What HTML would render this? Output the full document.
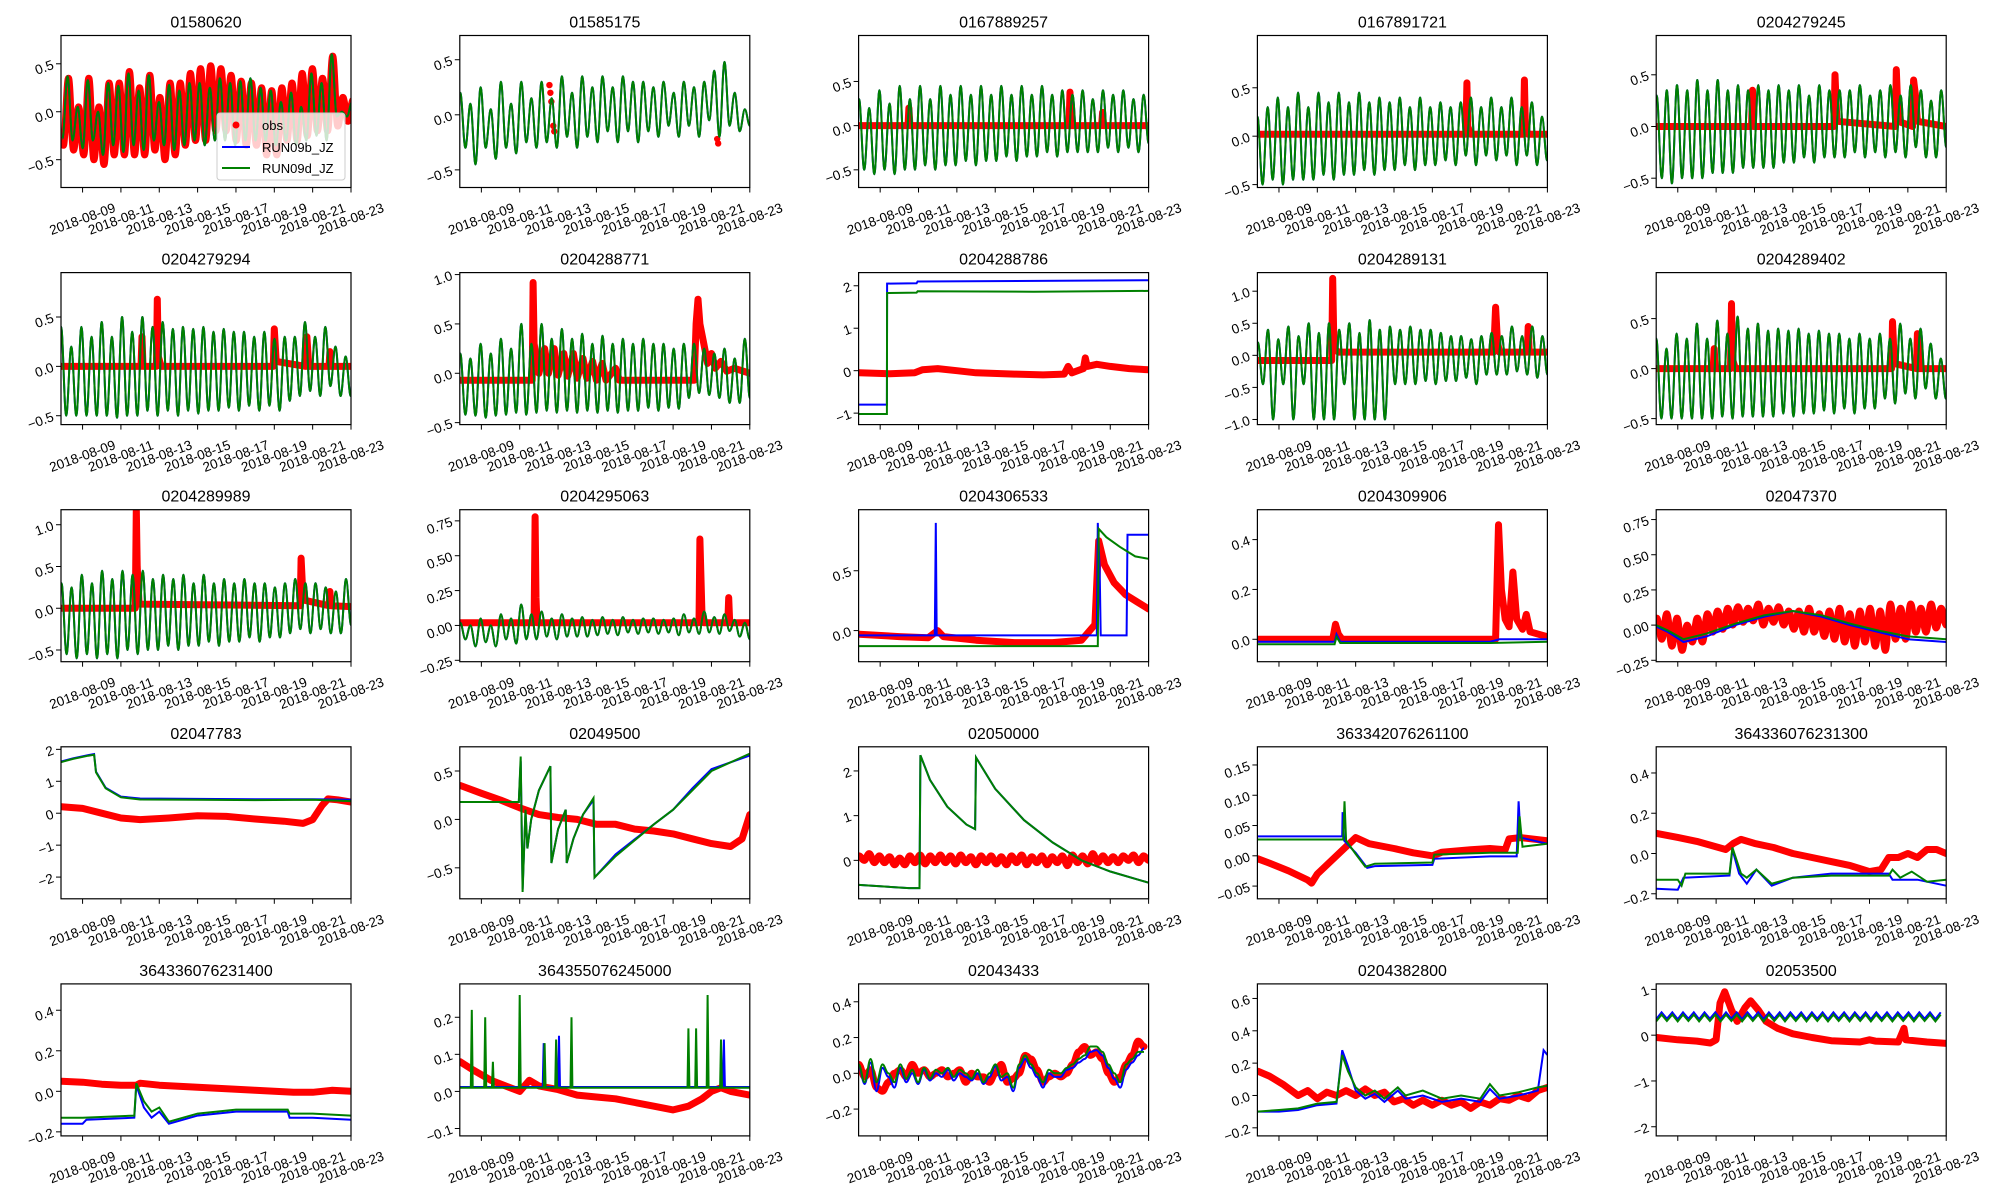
<!DOCTYPE html>
<html><head><meta charset="utf-8"><style>
html,body{margin:0;padding:0;background:#fff;}
svg{display:block;font-family:"Liberation Sans","DejaVu Sans",sans-serif;}
</style></head><body>
<svg id="fig" width="2000" height="1200" viewBox="0 0 2000 1200">
<defs id="defs"></defs>
</svg>
<script>
// ---------- data (day of August 2018) ----------
const xTicks = [9,11,13,15,17,19,21,23];
const xTickLabels = ["2018-08-09","2018-08-11","2018-08-13","2018-08-15","2018-08-17","2018-08-19","2018-08-21","2018-08-23"];
const titles = ["01580620","01585175","0167889257","0167891721","0204279245","0204279294","0204288771","0204288786","0204289131","0204289402","0204289989","0204295063","0204306533","0204309906","02047370","02047783","02049500","02050000","363342076261100","364336076231300","364336076231400","364355076245000","02043433","0204382800","02053500"];
const yMins = [-0.79,-0.66,-0.70,-0.53,-0.59,-0.59,-0.52,-1.27,-1.08,-0.56,-0.64,-0.26,-0.26,-0.09,-0.26,-2.68,-0.82,-0.86,-0.071,-0.225,-0.22,-0.12,-0.35,-0.25,-2.2];
const yMaxs = [0.795,0.72,1.02,1.04,0.88,0.95,1.02,2.31,1.29,0.96,1.18,0.83,1.01,0.52,0.82,2.08,0.75,2.54,0.18,0.53,0.53,0.29,0.5,0.69,1.12];
const yTickVals = [[-0.5,0,0.5],[-0.5,0,0.5],[-0.5,0,0.5],[-0.5,0,0.5],[-0.5,0,0.5],[-0.5,0,0.5],[-0.5,0,0.5,1.0],[-1,0,1,2],[-1.0,-0.5,0,0.5,1.0],[-0.5,0,0.5],[-0.5,0,0.5,1.0],[-0.25,0,0.25,0.5,0.75],[0,0.5],[0,0.2,0.4],[-0.25,0,0.25,0.5,0.75],[-2,-1,0,1,2],[-0.5,0,0.5],[0,1,2],[-0.05,0,0.05,0.1,0.15],[-0.2,0,0.2,0.4],[-0.2,0,0.2,0.4],[-0.1,0,0.1,0.2],[-0.2,0,0.2,0.4],[-0.2,0,0.2,0.4,0.6],[-2,-1,0,1]];
const yTickDecimals = [1,1,1,1,1,1,1,0,1,1,1,2,1,1,2,0,1,0,2,1,1,1,1,1,0];

// tidal extrema series: start day and spacing (half tidal cycle)
const tideStep = 0.265;
const p1_d = [-0.28,0.37,-0.3,0.05,-0.38,0.33,-0.3,0.0,-0.45,0.3,-0.35,0.27,-0.42,0.4,-0.35,0.22,-0.4,0.38,-0.3,0.1,-0.35,0.28,-0.4,0.22,-0.35,0.3,-0.3,0.3,-0.35,0.25,-0.3,0.35,-0.3,0.3,-0.35,0.32,-0.3,0.35,-0.3,0.25,-0.3,0.22,-0.35,0.1,-0.3,0.2,-0.35,0.05,-0.3,0.4,-0.25,0.3,-0.3,0.6,-0.05,0.0,-0.05,0.1];
const p1_obs = [-0.35,0.35,-0.4,0.05,-0.45,0.35,-0.5,0.05,-0.55,0.3,-0.45,0.3,-0.45,0.42,-0.45,0.25,-0.45,0.38,-0.4,0.15,-0.5,0.3,-0.45,0.3,-0.35,0.4,-0.3,0.45,-0.3,0.48,-0.2,0.45,-0.2,0.38,-0.3,0.32,-0.35,0.3,-0.35,0.25,-0.45,0.22,-0.45,0.25,-0.3,0.3,-0.3,0.4,-0.25,0.45,-0.2,0.35,-0.2,0.58,-0.15,0.15,-0.1,0.12];
const p2_d = [0.2,-0.3,0.1,-0.45,0.25,-0.3,0.05,-0.4,0.3,-0.3,0.1,-0.35,0.3,-0.25,0.15,-0.3,0.3,-0.25,0.15,-0.3,0.35,-0.2,0.2,-0.3,0.35,-0.2,0.25,-0.25,0.35,-0.15,0.25,-0.25,0.35,-0.15,0.3,-0.25,0.3,-0.15,0.25,-0.2,0.3,-0.1,0.2,-0.2,0.3,-0.1,0.25,-0.2,0.3,-0.05,0.4,-0.2,0.48,-0.1,0.2,-0.15,0.05,-0.1];
const p2_obs = [[12.55,0.27],[12.6,0.2],[12.65,0.12],[12.75,-0.1],[12.8,-0.15],[21.3,-0.22],[21.35,-0.26]];
const p3_d = [0.3,-0.5,0.2,-0.55,0.4,-0.5,0.25,-0.55,0.45,-0.5,0.3,-0.5,0.45,-0.45,0.3,-0.5,0.45,-0.45,0.35,-0.45,0.45,-0.4,0.35,-0.45,0.45,-0.4,0.35,-0.4,0.45,-0.35,0.35,-0.4,0.45,-0.35,0.35,-0.35,0.45,-0.3,0.35,-0.35,0.4,-0.3,0.35,-0.3,0.4,-0.3,0.3,-0.3,0.4,-0.25,0.35,-0.3,0.4,-0.25,0.3,-0.3,0.35,-0.2];
const p3_obs = [[7.9,0],[10.45,0],[10.5,0.2],[10.55,0],[18.85,0],[18.9,0.38],[18.95,0],[20.55,0],[20.6,0.15],[20.65,0],[23,0]];
const p4_d = [0.2,-0.5,0.3,-0.45,0.4,-0.5,0.3,-0.45,0.45,-0.45,0.3,-0.45,0.45,-0.4,0.35,-0.45,0.45,-0.4,0.35,-0.4,0.45,-0.35,0.35,-0.4,0.4,-0.35,0.35,-0.35,0.4,-0.3,0.3,-0.35,0.4,-0.3,0.3,-0.3,0.35,-0.25,0.3,-0.3,0.35,-0.2,0.4,-0.3,0.3,-0.2,0.4,-0.25,0.3,-0.2,0.4,-0.3,0.3,-0.2,0.35,-0.3,0.2,-0.25];
const p4_obs = [[7.9,0.02],[18.75,0.02],[18.8,0.55],[18.85,0.1],[19.0,0.02],[21.75,0.02],[21.8,0.58],[21.85,0.1],[22.0,0.02],[23,0.02]];
const p5_d = [0.3,-0.5,0.35,-0.55,0.4,-0.5,0.35,-0.5,0.45,-0.5,0.35,-0.45,0.45,-0.45,0.35,-0.45,0.4,-0.4,0.35,-0.4,0.4,-0.4,0.35,-0.4,0.4,-0.35,0.35,-0.35,0.4,-0.3,0.3,-0.35,0.4,-0.3,0.35,-0.3,0.35,-0.3,0.35,-0.25,0.4,-0.3,0.3,-0.25,0.35,-0.3,0.4,-0.25,0.3,-0.3,0.4,-0.2,0.35,-0.3,0.25,-0.3,0.35,-0.2];
const p5_obs = [[7.9,0],[12.85,0],[12.9,0.35],[12.95,0],[17.15,0],[17.2,0.5],[17.3,0.05],[20.35,0],[20.4,0.55],[20.5,0.05],[21.25,0],[21.3,0.45],[21.4,0.3],[21.5,0.05],[23,0]];
const p6_d = [0.4,-0.5,0.2,-0.5,0.4,-0.5,0.3,-0.5,0.45,-0.5,0.3,-0.52,0.5,-0.5,0.35,-0.5,0.5,-0.45,0.4,-0.5,0.45,-0.45,0.38,-0.5,0.4,-0.45,0.38,-0.48,0.4,-0.45,0.35,-0.45,0.38,-0.42,0.35,-0.45,0.35,-0.4,0.3,-0.45,0.35,-0.4,0.28,-0.45,0.3,-0.35,0.3,-0.3,0.45,-0.25,0.3,-0.3,0.4,-0.2,0.2,-0.3,0.1,-0.3,0.35];
const p6_obs = [[7.9,0],[12.05,0],[12.1,0.3],[12.15,0],[12.85,0],[12.9,0.68],[12.95,0.1],[13.1,0],[18.95,0],[19.0,0.38],[19.1,0.05],[20.65,0],[20.7,0.3],[20.8,0],[21.85,0],[21.9,0.15],[21.95,0],[23,0]];
const p7_d = [0.2,-0.42,0.15,-0.43,0.3,-0.45,0.2,-0.43,0.35,-0.42,0.25,-0.4,0.5,-0.42,0.3,-0.4,0.5,-0.38,0.35,-0.4,0.45,-0.38,0.35,-0.4,0.4,-0.38,0.3,-0.4,0.38,-0.38,0.3,-0.4,0.35,-0.38,0.3,-0.38,0.35,-0.35,0.3,-0.38,0.3,-0.35,0.25,-0.36,0.3,-0.25,0.3,-0.2,0.25,-0.22,0.2,-0.25,0.25,-0.3,0.15,-0.3,0.35,-0.25];
const p7_obs = [[7.9,-0.07],[11.65,-0.07],[11.7,0.92],[11.75,0.3],[12.0,0.0],[12.3,0.25],[12.5,0.0],[12.8,0.25],[13.0,-0.02],[13.3,0.2],[13.5,-0.03],[13.8,0.2],[14.0,-0.05],[14.3,0.15],[14.5,-0.05],[14.8,0.12],[15,-0.07],[15.3,0.1],[15.5,-0.07],[16,0.05],[16.2,-0.07],[20.1,-0.07],[20.2,0.5],[20.3,0.75],[20.4,0.5],[20.6,0.3],[20.8,0.1],[21,0.2],[21.2,0.05],[21.5,0.12],[21.8,0.02],[22.2,0.05],[23,0.0]];
const p8_b = [[7.875,-0.8],[9.35,-0.8],[9.36,2.05],[10.9,2.06],[10.95,2.1],[23,2.13]];
const p8_d = [[7.875,-1.02],[9.35,-1.02],[9.36,1.83],[10.9,1.84],[10.95,1.87],[17,1.86],[23,1.88]];
const p8_obs = [[7.9,-0.05],[9.5,-0.07],[10.8,-0.05],[11.2,0.02],[12,0.05],[13,0.0],[14,-0.05],[16,-0.08],[17.5,-0.1],[18.6,-0.08],[18.8,0.1],[19.0,-0.05],[19.6,0.05],[19.7,0.3],[19.8,0.1],[20.3,0.15],[21,0.1],[22,0.05],[23,0.02]];
const p9_d = [0.2,-0.45,0.4,-1.0,0.25,-0.45,0.45,-1.0,0.3,-0.45,0.5,-1.0,0.35,-1.0,0.5,-1.0,0.4,-0.45,0.5,-1.0,0.35,-1.0,0.55,-1.0,0.4,-1.0,0.45,-0.45,0.4,-0.45,0.45,-0.45,0.4,-0.4,0.4,-0.45,0.35,-0.4,0.3,-0.4,0.3,-0.35,0.25,-0.45,0.3,-0.3,0.35,-0.3,0.3,-0.3,0.45,-0.25,0.3,-0.3,0.45,-0.35,0.3,-0.3];
const p9_obs = [[7.9,-0.08],[11.75,-0.08],[11.8,1.2],[11.85,0.4],[11.9,0.1],[12.1,0.05],[20.2,0.05],[20.3,0.75],[20.4,0.2],[20.5,0.05],[21.95,0.05],[22.0,0.45],[22.05,0.05],[23,0.05]];
const p10_d = [0.3,-0.5,0.2,-0.5,0.35,-0.5,0.3,-0.5,0.45,-0.5,0.3,-0.5,0.48,-0.48,0.35,-0.5,0.52,-0.48,0.4,-0.48,0.45,-0.48,0.38,-0.48,0.4,-0.45,0.38,-0.48,0.4,-0.45,0.35,-0.45,0.38,-0.42,0.35,-0.45,0.35,-0.4,0.3,-0.45,0.35,-0.4,0.3,-0.4,0.35,-0.3,0.3,-0.35,0.45,-0.25,0.3,-0.3,0.4,-0.2,0.25,-0.3,0.1,-0.3,0.35];
const p10_obs = [[7.9,0],[10.85,0],[10.9,0.2],[10.95,0],[11.75,0],[11.8,0.65],[11.85,0.1],[12.0,0],[20.15,0],[20.2,0.47],[20.3,0.05],[21.45,0],[21.5,0.35],[21.6,0],[23,0]];
const p11_d = [0.3,-0.55,0.25,-0.6,0.4,-0.55,0.3,-0.6,0.45,-0.55,0.35,-0.6,0.45,-0.5,0.4,-0.55,0.45,-0.5,0.35,-0.5,0.4,-0.45,0.35,-0.5,0.4,-0.45,0.3,-0.45,0.4,-0.4,0.3,-0.45,0.35,-0.4,0.3,-0.4,0.35,-0.35,0.3,-0.4,0.3,-0.35,0.25,-0.35,0.3,-0.3,0.35,-0.25,0.3,-0.3,0.3,-0.25,0.25,-0.3,0.2,-0.3,0.35,-0.2];
const p11_obs = [[7.9,0],[11.75,0],[11.8,1.2],[11.85,0.5],[11.95,0.05],[20.35,0.03],[20.4,0.6],[20.5,0.1],[21.85,0.03],[21.9,0.2],[21.95,0.03],[23,0.02]];
const p12_d = [0.02,-0.1,0.0,-0.15,0.05,-0.12,0.0,-0.15,0.08,-0.1,0.05,-0.13,0.15,-0.1,0.08,-0.1,0.1,-0.08,0.05,-0.1,0.08,-0.08,0.05,-0.08,0.06,-0.08,0.04,-0.07,0.06,-0.06,0.04,-0.07,0.06,-0.05,0.04,-0.06,0.05,-0.05,0.05,-0.06,0.04,-0.05,0.05,-0.07,0.08,-0.05,0.05,-0.06,0.1,-0.05,0.06,-0.06,0.08,-0.04,0.04,-0.08,0.02,-0.1];
const p12_obs = [[7.9,0.02],[11.75,0.02],[11.8,0.78],[11.85,0.2],[11.9,0.02],[20.35,0.02],[20.4,0.62],[20.5,0.1],[20.6,0.02],[21.85,0.02],[21.9,0.2],[21.95,0.02],[23,0.02]];
const p13_b = [[7.875,-0.04],[11.85,-0.04],[11.9,0.9],[11.95,-0.04],[20.3,-0.04],[20.35,0.9],[20.45,0.5],[20.5,-0.04],[21.85,-0.04],[21.9,0.8],[23,0.8]];
const p13_d = [[7.875,-0.13],[20.35,-0.13],[20.4,0.85],[20.8,0.78],[21.5,0.7],[22.3,0.62],[23,0.6]];
const p13_obs = [[7.9,-0.03],[10,-0.05],[11.5,-0.06],[12,0.0],[12.3,-0.05],[14,-0.08],[16,-0.1],[18,-0.1],[19.5,-0.08],[20.2,0.05],[20.4,0.75],[20.7,0.55],[21.2,0.4],[21.8,0.3],[22.4,0.24],[23,0.18]];
const p14_b = [[7.875,-0.01],[11.9,-0.01],[12.0,0.02],[12.2,-0.01],[20,-0.01],[20.5,0.0],[23,0.0]];
const p14_d = [[7.875,-0.02],[11.9,-0.02],[12.0,0.01],[12.2,-0.015],[20,-0.015],[23,-0.01]];
const p14_obs = [[7.9,0.0],[11.8,0.0],[11.95,0.06],[12.1,0.02],[12.3,0.0],[20.3,0.0],[20.45,0.46],[20.6,0.2],[20.8,0.08],[21.0,0.05],[21.2,0.27],[21.4,0.08],[21.7,0.04],[21.9,0.1],[22.1,0.03],[23,0.01]];
const p15_b = [[7.875,-0.01],[8.5,-0.05],[9.3,-0.12],[10.5,-0.08],[12,0.0],[13.5,0.06],[15,0.1],[16.5,0.06],[18,0.0],[19.5,-0.05],[21,-0.1],[23,-0.12]];
const p15_d = [[7.875,0.0],[8.5,-0.04],[9.3,-0.1],[10.5,-0.06],[12,0.01],[13.5,0.07],[15,0.1],[16.5,0.07],[18,0.01],[19.5,-0.04],[21,-0.08],[23,-0.1]];
const p15_obs = [0.05,-0.1,0.08,-0.15,0.05,-0.18,0.0,-0.12,0.05,-0.12,0.08,-0.05,0.1,-0.03,0.12,0.0,0.13,0.02,0.12,0.03,0.15,0.0,0.12,0.02,0.13,0.0,0.1,-0.03,0.1,-0.05,0.12,-0.05,0.08,-0.08,0.1,-0.1,0.12,-0.12,0.08,-0.15,0.1,-0.12,0.12,-0.15,0.1,-0.18,0.15,-0.1,0.12,-0.1,0.15,-0.05,0.12,-0.05,0.15,-0.02,0.12,0.0];
const p16_b = [[7.875,1.62],[8.5,1.72],[9.3,1.82],[9.6,1.85],[9.7,1.3],[10.2,0.8],[11,0.52],[12,0.46],[15,0.45],[18,0.44],[21,0.44],[23,0.42]];
const p16_d = [[7.875,1.6],[8.5,1.7],[9.3,1.8],[9.6,1.83],[9.7,1.28],[10.2,0.78],[11,0.5],[12,0.43],[15,0.42],[18,0.41],[21,0.42],[23,0.38]];
const p16_obs = [[7.9,0.2],[9,0.15],[10,0.0],[11,-0.15],[12,-0.2],[13.5,-0.15],[15,-0.08],[16.5,-0.1],[18,-0.18],[19.5,-0.25],[20.5,-0.32],[21.0,-0.2],[21.5,0.25],[21.8,0.45],[22.3,0.42],[23,0.35]];
const p17_d = [[7.875,0.18],[10.95,0.18],[11.05,0.65],[11.15,-0.75],[11.3,0.1],[11.4,-0.3],[11.6,0.0],[12.0,0.3],[12.6,0.55],[12.65,-0.45],[13.0,-0.1],[13.4,0.1],[13.45,-0.45],[13.8,-0.2],[14.3,0.05],[14.85,0.22],[14.9,-0.6],[16,-0.38],[18,-0.05],[19,0.1],[20,0.3],[21,0.5],[23,0.68]];
const p17_b = [[7.875,0.18],[10.95,0.18],[11.05,0.6],[11.15,-0.72],[11.3,0.08],[11.4,-0.3],[11.6,0.0],[12.0,0.3],[12.6,0.55],[12.65,-0.45],[13.0,-0.1],[13.4,0.1],[13.45,-0.45],[13.8,-0.2],[14.3,0.05],[14.85,0.2],[14.9,-0.6],[16,-0.36],[18,-0.05],[19,0.1],[20,0.32],[21,0.52],[23,0.66]];
const p17_obs = [[7.9,0.35],[9,0.27],[10,0.2],[11,0.12],[12,0.05],[13,0.02],[14,0.0],[15,-0.05],[16,-0.05],[17,-0.1],[18,-0.12],[19,-0.15],[20,-0.2],[21,-0.25],[22,-0.28],[22.6,-0.2],[23,0.05]];
const p18_d = [[7.875,-0.55],[10.5,-0.62],[11.05,-0.62],[11.1,2.35],[11.6,1.8],[12.5,1.2],[13.5,0.8],[13.95,0.7],[14.0,2.3],[15,1.6],[16.5,0.9],[18,0.4],[19.5,0.0],[21,-0.25],[23,-0.5]];
const p18_b = p18_d;
const p18_obs = [0.1,0.0,0.15,-0.05,0.1,-0.05,0.08,-0.1,0.05,-0.1,0.1,-0.05,0.12,-0.08,0.1,-0.05,0.12,-0.05,0.1,-0.08,0.12,-0.05,0.08,-0.1,0.1,-0.05,0.1,-0.08,0.08,-0.1,0.1,-0.05,0.12,-0.1,0.08,-0.05,0.1,-0.1,0.08,-0.05,0.1,-0.12,0.12,-0.05,0.1,-0.08,0.15,-0.05,0.1,-0.05,0.08,-0.05,0.1,0.0,0.12,-0.05,0.1,0.0];
const p19_b = [[7.875,0.032],[12.3,0.032],[12.32,0.072],[12.4,0.025],[13,0.005],[13.6,-0.02],[14.0,-0.017],[17,-0.015],[17.1,-0.005],[20,-0.001],[21.4,-0.001],[21.5,0.09],[21.6,0.03],[23,0.02]];
const p19_d = [[7.875,0.027],[12.35,0.027],[12.42,0.09],[12.5,0.025],[13,0.003],[13.5,-0.018],[14.0,-0.013],[17,-0.011],[17.1,0.002],[20,0.005],[21.45,0.005],[21.55,0.065],[21.7,0.015],[23,0.02]];
const p19_obs = [[7.9,-0.005],[8.5,-0.012],[9.5,-0.025],[10.5,-0.04],[10.7,-0.045],[11.0,-0.03],[13.0,0.03],[13.7,0.02],[15,0.012],[16,0.005],[17.0,0.0],[17.5,0.006],[19,0.01],[20,0.012],[20.8,0.01],[21.0,0.028],[21.6,0.03],[23,0.025]];
const p20_b = [[7.875,-0.175],[9,-0.18],[9.3,-0.12],[11.7,-0.11],[11.85,0.02],[12.2,-0.1],[12.6,-0.15],[13.1,-0.08],[13.9,-0.16],[15,-0.12],[17,-0.1],[20,-0.1],[20.2,-0.13],[21.5,-0.13],[23,-0.16]];
const p20_d = [[7.875,-0.13],[9,-0.13],[9.2,-0.16],[9.4,-0.1],[11.7,-0.1],[11.85,0.03],[12.3,-0.1],[12.6,-0.12],[13.1,-0.08],[13.9,-0.15],[15,-0.12],[17,-0.11],[20,-0.11],[20.2,-0.08],[20.6,-0.12],[21.2,-0.09],[22,-0.14],[23,-0.13]];
const p20_obs = [[7.9,0.1],[9,0.08],[10,0.06],[11.5,0.02],[11.9,0.05],[12.3,0.07],[13,0.05],[14,0.03],[15,0.0],[16,-0.02],[17,-0.04],[18,-0.06],[19,-0.09],[19.6,-0.08],[20,-0.02],[20.5,-0.02],[21,0.0],[21.5,-0.02],[22,0.02],[22.5,0.02],[23,0.0]];
const p21_b = [[7.875,-0.16],[9,-0.16],[9.2,-0.14],[11.7,-0.13],[11.8,0.03],[12.2,-0.08],[12.6,-0.13],[13,-0.1],[13.5,-0.16],[15,-0.12],[17,-0.1],[19.7,-0.1],[19.8,-0.13],[21,-0.13],[23,-0.14]];
const p21_d = [[7.875,-0.13],[9,-0.13],[11.7,-0.12],[11.8,0.04],[12.2,-0.05],[12.6,-0.1],[13,-0.08],[13.5,-0.15],[15,-0.11],[17,-0.09],[19.7,-0.09],[19.8,-0.11],[21,-0.11],[23,-0.12]];
const p21_obs = [[7.9,0.05],[9,0.045],[10,0.035],[11,0.03],[11.8,0.03],[12,0.04],[13,0.03],[14,0.025],[15,0.02],[16,0.015],[17,0.01],[18,0.005],[19,0.0],[20,-0.005],[21,-0.005],[22,0.005],[23,0.0]];
const p22_d = [[7.875,0.01],[8.45,0.01],[8.5,0.22],[8.55,0.01],[9.15,0.01],[9.2,0.2],[9.25,0.01],[9.55,0.01],[9.6,0.08],[9.65,0.01],[10.95,0.01],[11.0,0.26],[11.05,0.01],[12.25,0.01],[12.3,0.13],[12.35,0.01],[12.85,0.01],[12.9,0.14],[12.95,0.01],[13.65,0.01],[13.7,0.2],[13.75,0.01],[19.75,0.01],[19.8,0.17],[19.85,0.01],[20.15,0.01],[20.2,0.17],[20.25,0.01],[20.75,0.01],[20.8,0.26],[20.85,0.01],[21.45,0.01],[21.5,0.14],[21.55,0.01],[23,0.01]];
const p22_b = [[7.875,0.012],[12.2,0.012],[12.25,0.13],[12.3,0.012],[13.0,0.012],[13.05,0.15],[13.1,0.012],[21.6,0.012],[21.65,0.14],[21.7,0.012],[23,0.012]];
const p22_obs = [[7.9,0.08],[8.5,0.06],[9.5,0.03],[10.5,0.01],[11.0,0.0],[11.5,0.03],[12,0.015],[13,0.005],[14,-0.01],[15,-0.015],[16,-0.02],[17,-0.03],[18,-0.04],[19,-0.05],[19.8,-0.04],[20.5,-0.02],[21,0.0],[21.5,0.01],[22,0.0],[23,-0.01]];
const p23_d = [0.05,-0.05,0.08,-0.05,0.05,0.0,-0.05,0.05,-0.03,0.02,-0.05,0.03,-0.03,0.02,0.0,0.03,-0.02,0.02,0.0,-0.03,0.02,-0.05,0.0,0.05,-0.02,0.0,-0.08,0.05,0.1,0.05,0.0,-0.05,0.02,0.0,0.0,0.03,0.05,0.08,0.1,0.15,0.15,0.12,0.05,0.0,-0.05,0.05,0.08,0.12,0.12];
const p23_b = [0.04,-0.06,0.06,-0.1,0.03,-0.02,-0.08,0.03,-0.05,0.0,-0.06,0.02,-0.04,0.0,-0.02,0.02,-0.04,0.0,-0.02,-0.04,0.0,-0.06,-0.02,0.04,-0.04,-0.02,-0.1,0.03,0.08,0.03,-0.02,-0.08,0.0,-0.02,-0.02,0.02,0.03,0.06,0.08,0.12,0.13,0.1,0.03,-0.03,-0.08,0.02,0.06,0.1,0.14];
const p23_obs = [0.05,-0.02,0.02,-0.08,-0.1,-0.05,0.0,0.02,-0.02,0.05,0.0,0.02,-0.02,0.0,0.02,-0.02,0.0,0.02,-0.05,0.0,-0.02,-0.02,-0.05,0.0,0.05,-0.05,-0.03,0.0,0.1,0.08,0.02,-0.05,-0.02,0.0,-0.02,0.0,0.05,0.12,0.15,0.1,0.12,0.08,0.0,-0.05,-0.02,0.05,0.1,0.18,0.15];
const p24_d = [[7.875,-0.1],[9,-0.09],[10,-0.08],[11,-0.05],[12,-0.04],[12.3,0.25],[12.6,0.15],[13.0,0.05],[13.5,0.0],[14,0.03],[14.5,-0.02],[15.2,0.05],[15.6,0.0],[16.5,0.03],[17.5,-0.02],[18.5,0.0],[19.5,-0.02],[20.0,0.07],[20.5,0.0],[21.5,0.02],[22.5,0.05],[23,0.06]];
const p24_b = [[7.875,-0.1],[9,-0.1],[10,-0.09],[11,-0.06],[12,-0.05],[12.3,0.28],[12.6,0.18],[13.0,0.03],[13.5,-0.02],[14,0.01],[14.5,-0.04],[15.2,0.03],[15.6,-0.02],[16.5,0.0],[17.5,-0.04],[18.5,-0.02],[19.5,-0.04],[20.0,0.04],[20.5,-0.02],[21.5,0.0],[22.5,0.03],[22.8,0.28],[23,0.25]];
const p24_obs = [[7.9,0.15],[8.5,0.12],[9.2,0.07],[10,0.0],[10.5,0.03],[11,-0.02],[11.5,0.02],[12,0.0],[12.5,0.03],[13,0.0],[13.5,0.04],[14,0.0],[14.5,0.02],[15,-0.04],[15.5,-0.02],[16,-0.06],[16.5,-0.03],[17,-0.06],[17.5,-0.03],[18,-0.06],[18.5,-0.04],[19,-0.08],[19.5,-0.04],[20,-0.06],[20.5,-0.02],[21,-0.03],[21.5,0.0],[22,-0.02],[22.5,0.03],[23,0.05]];
const p25_b = [0.35,0.5,0.36,0.5,0.35,0.5,0.36,0.5,0.35,0.5,0.36,0.5,0.35,0.5,0.36,0.5,0.35,0.5,0.36,0.5,0.35,0.5,0.36,0.5,0.35,0.5,0.36,0.5,0.35,0.5,0.36,0.5,0.35,0.5,0.36,0.5,0.35,0.5,0.36,0.5,0.35,0.5,0.36,0.5,0.35,0.5,0.36,0.5,0.35,0.5,0.36,0.5,0.35,0.5];
const p25_d = [0.3,0.45,0.31,0.45,0.3,0.45,0.31,0.45,0.3,0.45,0.31,0.45,0.3,0.45,0.31,0.45,0.3,0.45,0.31,0.45,0.3,0.45,0.31,0.45,0.3,0.45,0.31,0.45,0.3,0.45,0.31,0.45,0.3,0.45,0.31,0.45,0.3,0.45,0.31,0.45,0.3,0.45,0.31,0.45,0.3,0.45,0.31,0.45,0.3,0.45,0.31,0.45,0.3,0.45];
const p25_obs = [[7.9,-0.05],[9,-0.1],[10,-0.13],[10.7,-0.17],[11.0,-0.1],[11.2,0.7],[11.45,0.95],[11.8,0.55],[12.1,0.3],[12.5,0.6],[12.8,0.75],[13.2,0.55],[13.6,0.3],[14.2,0.15],[15,0.03],[16,-0.05],[17,-0.12],[18.5,-0.15],[19.0,-0.1],[19.3,-0.13],[20.5,-0.15],[20.8,0.15],[20.9,-0.1],[22,-0.15],[23,-0.18]];

// tide start days per panel (for extrema arrays)
const tideStart = {p1:7.95,p2:7.9,p3:7.9,p4:7.88,p5:7.9,p6:7.88,p7:7.9,p9:7.9,p10:7.88,p11:7.9,p12:7.9,p15:7.9,p18:7.9,p23:7.88};
const sawStep = 0.28;

// ---------- rendering ----------
const NS = "http://www.w3.org/2000/svg";
const svg = document.getElementById('fig');
const defs = document.getElementById('defs');
const X0 = 7.875, X1 = 23;
const AW = 290, AH = 152;
function el(tag, attrs, parent){ const e = document.createElementNS(NS, tag); for (const k in attrs) e.setAttribute(k, attrs[k]); parent.appendChild(e); return e; }

function extremaPts(arr, t0, step){ return arr.map((v,i)=>[t0 + i*step, v]); }

function pathFrom(pts, sx, sy, smooth){
  let d = 'M' + sx(pts[0][0]).toFixed(1) + ',' + sy(pts[0][1]).toFixed(1);
  for (let i=1;i<pts.length;i++){
    const x0=sx(pts[i-1][0]), y0=sy(pts[i-1][1]), x1=sx(pts[i][0]), y1=sy(pts[i][1]);
    if (smooth){ const dx=(x1-x0)*0.364; d += 'C'+(x0+dx).toFixed(1)+','+y0.toFixed(1)+' '+(x1-dx).toFixed(1)+','+y1.toFixed(1)+' '+x1.toFixed(1)+','+y1.toFixed(1); }
    else d += 'L'+x1.toFixed(1)+','+y1.toFixed(1);
  }
  return d;
}

const T = tideStart;
const panels = [
  {obs:extremaPts(p1_obs,T.p1+0.05,tideStep), os:true, b:extremaPts(p1_d,T.p1,tideStep), d:extremaPts(p1_d,T.p1,tideStep), sm:true},
  {obs:p2_obs, dots:true, b:extremaPts(p2_d,T.p2,tideStep), d:extremaPts(p2_d,T.p2,tideStep), sm:true},
  {obs:p3_obs, b:extremaPts(p3_d,T.p3,tideStep), d:extremaPts(p3_d,T.p3,tideStep), sm:true},
  {obs:p4_obs, b:extremaPts(p4_d,T.p4,tideStep), d:extremaPts(p4_d,T.p4,tideStep), sm:true},
  {obs:p5_obs, b:extremaPts(p5_d,T.p5,tideStep), d:extremaPts(p5_d,T.p5,tideStep), sm:true},
  {obs:p6_obs, b:extremaPts(p6_d,T.p6,tideStep), d:extremaPts(p6_d,T.p6,tideStep), sm:true},
  {obs:p7_obs, b:extremaPts(p7_d,T.p7,tideStep), d:extremaPts(p7_d,T.p7,tideStep), sm:true},
  {obs:p8_obs, b:p8_b, d:p8_d},
  {obs:p9_obs, b:extremaPts(p9_d,T.p9,tideStep), d:extremaPts(p9_d,T.p9,tideStep), sm:true},
  {obs:p10_obs, b:extremaPts(p10_d,T.p10,tideStep), d:extremaPts(p10_d,T.p10,tideStep), sm:true},
  {obs:p11_obs, b:extremaPts(p11_d,T.p11,tideStep), d:extremaPts(p11_d,T.p11,tideStep), sm:true},
  {obs:p12_obs, b:extremaPts(p12_d,T.p12,tideStep), d:extremaPts(p12_d,T.p12,tideStep), sm:true},
  {obs:p13_obs, b:p13_b, d:p13_d},
  {obs:p14_obs, b:p14_b, d:p14_d},
  {obs:extremaPts(p15_obs,T.p15,tideStep), os:true, b:p15_b, d:p15_d},
  {obs:p16_obs, b:p16_b, d:p16_d},
  {obs:p17_obs, b:p17_b, d:p17_d},
  {obs:extremaPts(p18_obs,T.p18,tideStep), os:true, b:p18_b, d:p18_d},
  {obs:p19_obs, b:p19_b, d:p19_d},
  {obs:p20_obs, b:p20_b, d:p20_d},
  {obs:p21_obs, b:p21_b, d:p21_d},
  {obs:p22_obs, b:p22_b, d:p22_d},
  {obs:extremaPts(p23_obs,T.p23,0.31), os:true, b:extremaPts(p23_b,T.p23,0.31), d:extremaPts(p23_d,T.p23,0.31), sm:true},
  {obs:p24_obs, b:p24_b, d:p24_d},
  {obs:p25_obs, b:extremaPts(p25_b,7.875,sawStep), d:extremaPts(p25_d,7.875,sawStep)}
];

function fmt(v, dec){ const s = Math.abs(v).toFixed(dec); return (v < 0 ? '\u2212' : '') + s; }

panels.forEach((p, i) => {
  const r = Math.floor(i/5), c = i%5;
  const L = 61 + c*398.8, Tp = 35.5 + r*237.1;
  const ymin = yMins[i], ymax = yMaxs[i];
  const sx = t => L + (t - X0)/(X1 - X0)*AW;
  const sy = v => Tp + AH - (v - ymin)/(ymax - ymin)*AH;
  const g = el('g', {}, svg);
  
  

  const cp = el('clipPath', {id:'clip'+i}, defs);
  el('rect', {x:L, y:Tp, width:AW, height:AH}, cp);

  const title = el('text', {x:L+AW/2, y:Tp-8, 'text-anchor':'middle', 'font-size':16, fill:'#000'}, g);
  title.textContent = titles[i];
  
  

  const plot = el('g', {'clip-path':'url(#clip'+i+')'}, g);
  
  

  if (p.dots){
    p.obs.forEach(pt => {
      const dot = el('circle', {cx:sx(pt[0]), cy:sy(pt[1]), r:3.2, fill:'#ff0000'}, plot);
      
      
    });
  } else {
    const ob = el('path', {d:pathFrom(p.obs, sx, sy, !!p.os), fill:'none', stroke:'#ff0000', 'stroke-width':7, 'stroke-linejoin':'round', 'stroke-linecap':'round'}, plot);
    
    
  }
  const bl = el('path', {d:pathFrom(p.b, sx, sy, !!p.sm), fill:'none', stroke:'#0000ff', 'stroke-width':2}, plot);
  
  
  const gl = el('path', {d:pathFrom(p.d, sx, sy, !!p.sm), fill:'none', stroke:'#008000', 'stroke-width':2}, plot);
  
  

  const frame = el('rect', {x:L, y:Tp, width:AW, height:AH, fill:'none', stroke:'#000', 'stroke-width':1.2}, g);
  
  

  xTicks.forEach((t, k) => {
    const x = sx(t);
    const tk = el('line', {x1:x, x2:x, y1:Tp+AH, y2:Tp+AH+5, stroke:'#000', 'stroke-width':1}, g);
    
    
    const lx = x, ly = Tp + AH + 36;
    const lb = el('text', {x:lx, y:ly, 'text-anchor':'middle', 'font-size':13.5, fill:'#000', transform:'rotate(-20 '+lx+' '+(ly-4)+')'}, g);
    lb.textContent = xTickLabels[k];
    
    
  });
  yTickVals[i].forEach(v => {
    const y = sy(v);
    const tk = el('line', {x1:L-5, x2:L, y1:y, y2:y, stroke:'#000', 'stroke-width':1}, g);
    
    
    const lx = L - 8;
    const lb = el('text', {x:lx, y:y+5, 'text-anchor':'end', 'font-size':13.5, fill:'#000', transform:'rotate(-20 '+lx+' '+y+')'}, g);
    lb.textContent = fmt(v, yTickDecimals[i]);
    
    
  });
});

const lg = el('g', {}, svg);


const lbox = el('rect', {x:217, y:113, width:128, height:67, rx:3, fill:'#ffffff', 'fill-opacity':0.8, stroke:'#cccccc'}, lg);


const ld = el('circle', {cx:236, cy:125, r:3.5, fill:'#ff0000'}, lg);


const lt1 = el('text', {x:262, y:130, 'font-size':13}, lg); lt1.textContent = 'obs';


const lb1 = el('line', {x1:222, x2:250, y1:147, y2:147, stroke:'#0000ff', 'stroke-width':2}, lg);


const lt2 = el('text', {x:262, y:152, 'font-size':13}, lg); lt2.textContent = 'RUN09b_JZ';


const lb2 = el('line', {x1:222, x2:250, y1:168, y2:168, stroke:'#008000', 'stroke-width':2}, lg);


const lt3 = el('text', {x:262, y:173, 'font-size':13}, lg); lt3.textContent = 'RUN09d_JZ';


</script>
</body></html>
